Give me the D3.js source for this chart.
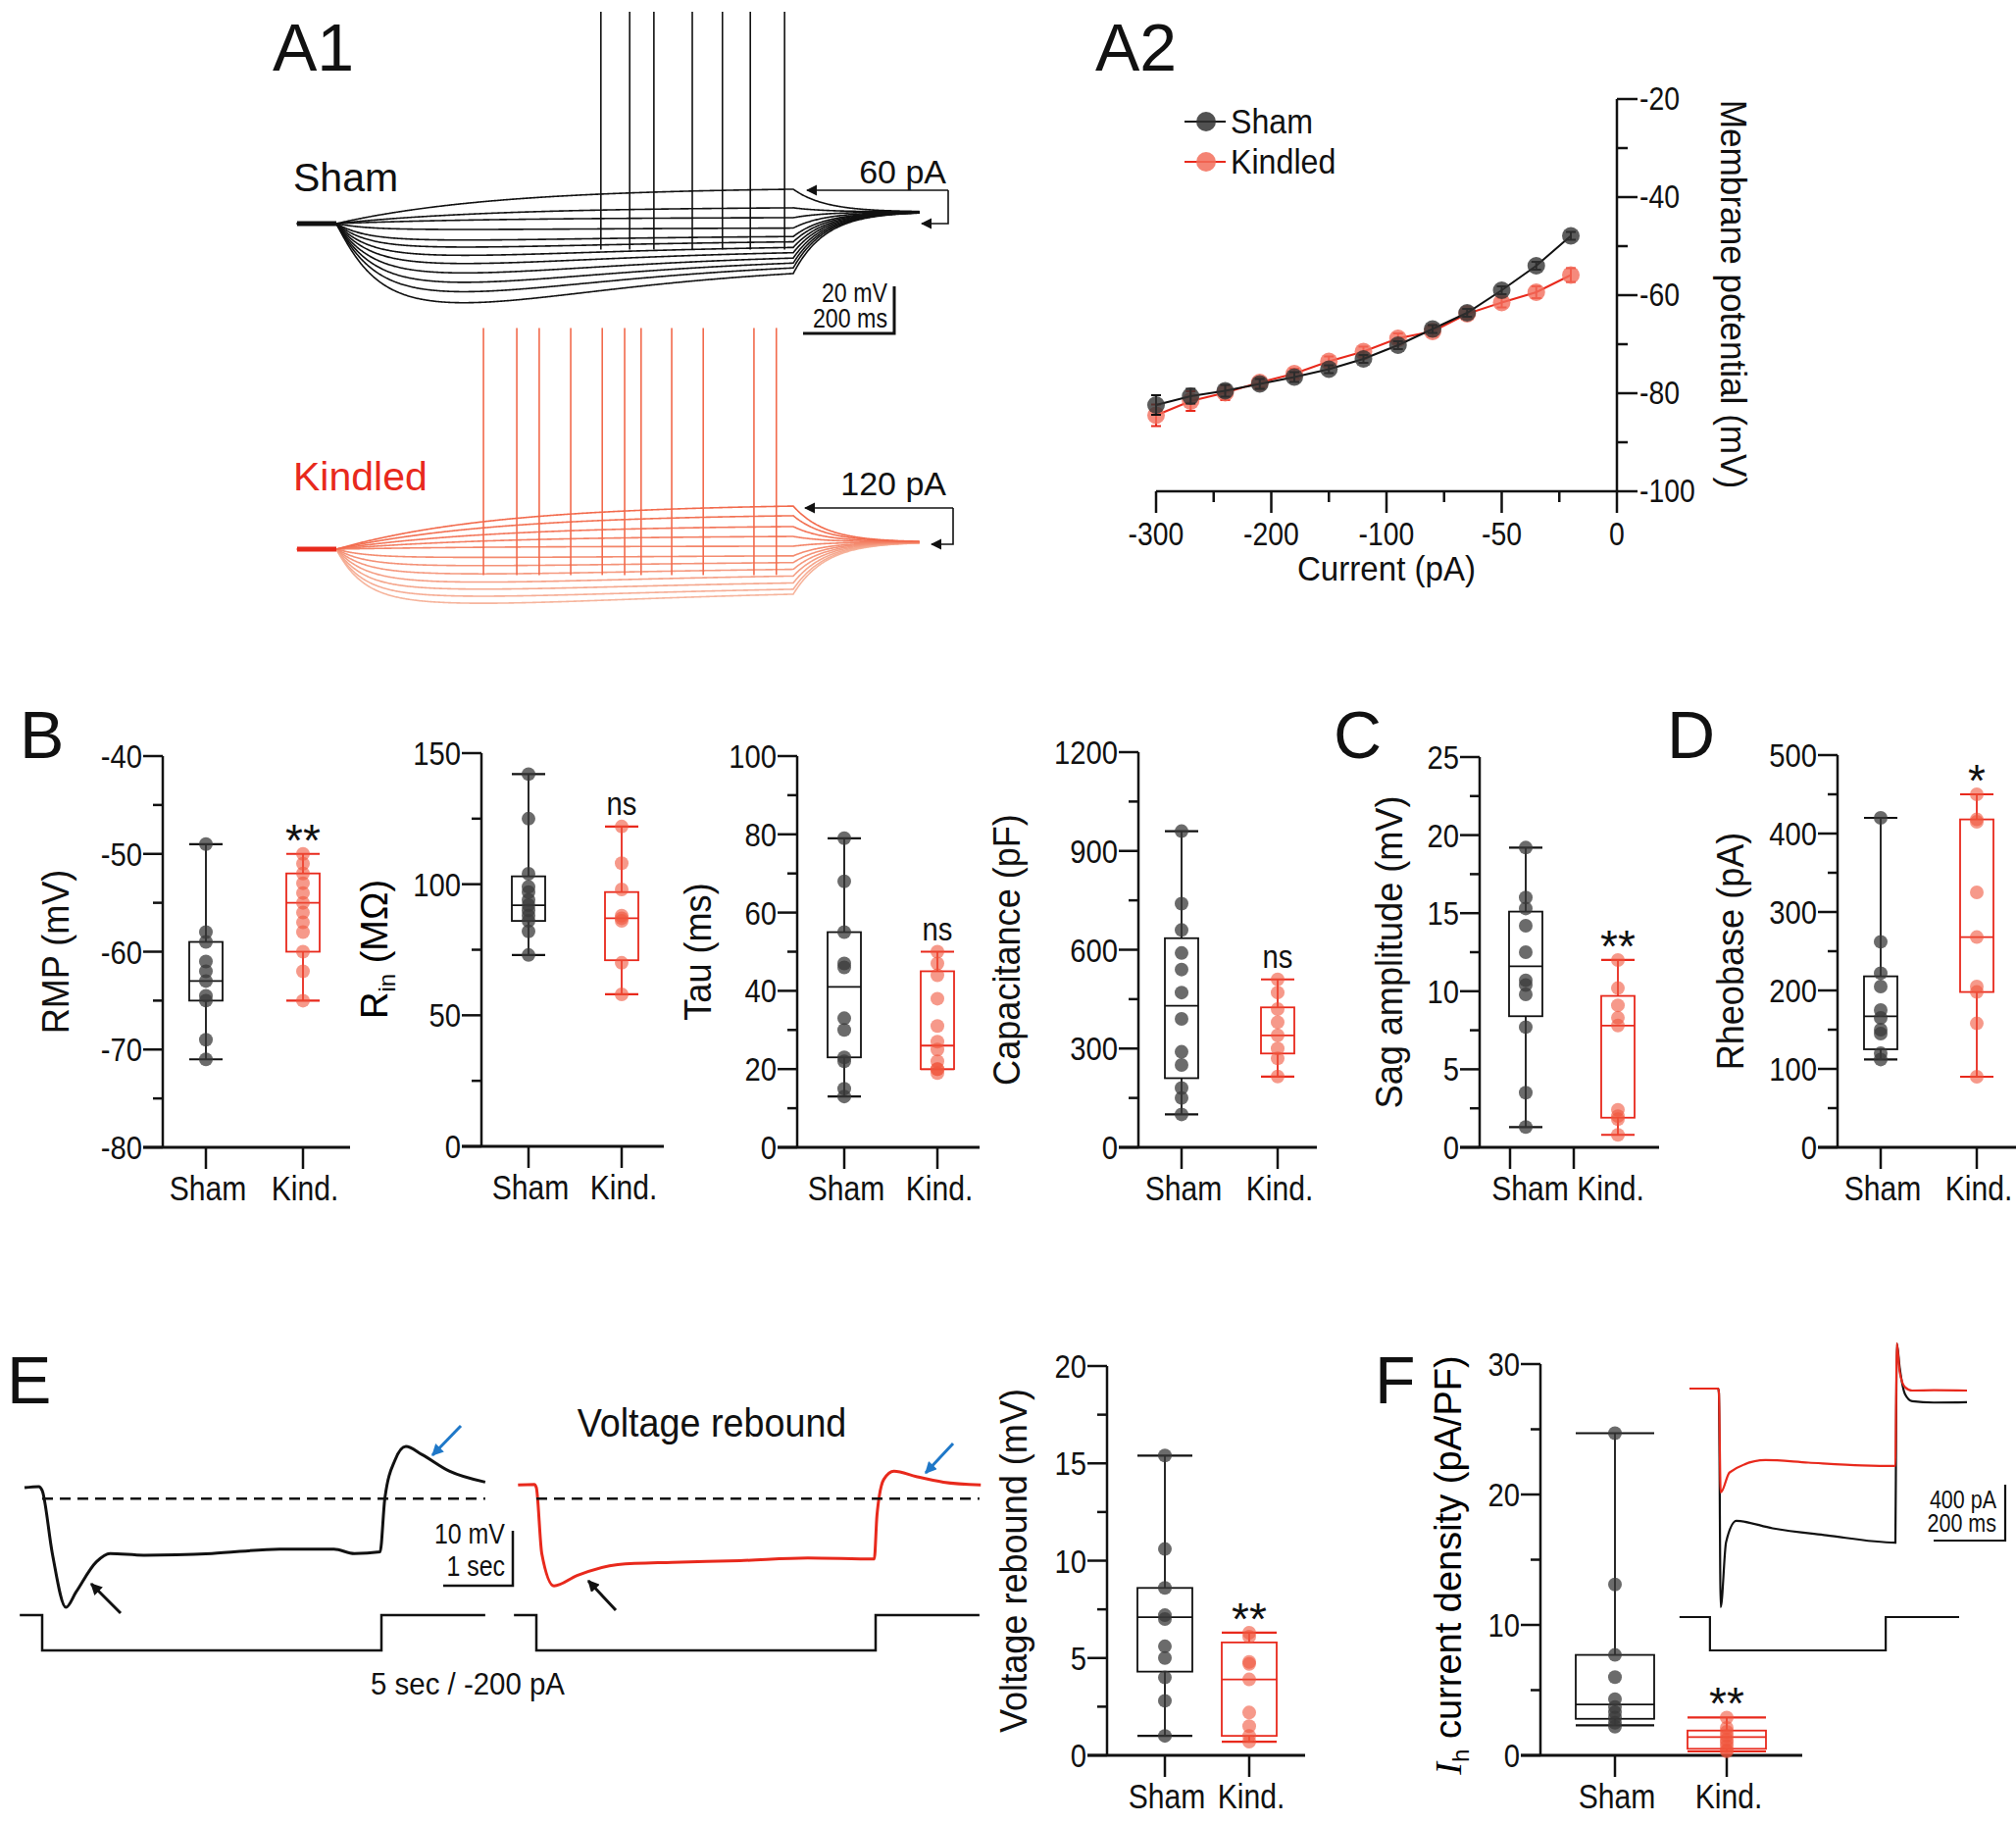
<!DOCTYPE html>
<html><head><meta charset="utf-8">
<script src="https://cdn.jsdelivr.net/npm/d3@7"></script>
<style>body{margin:0;background:#fff}text{font-family:"Liberation Sans",Arial,sans-serif}</style>
</head><body><svg id="c" width="2056" height="1859"></svg>
<script>
// ---------------- DATA ----------------
const groups = ["Sham","Kind."];
// A1 sweeps (mV relative to rest): steady-state and sag peak
const shamSS   = [14.6, 6.7, 2.5, -1.7, -5, -7, -9, -10.8, -12.5, -14, -15.4, -17];
const shamPeak = [14.6, 6.7, 2.5, -2.5, -7, -10, -13.5, -17, -21, -25, -29, -33.7];
const kindSS   = [18.3, 14.2, 9.6, 5.4, 1.25, -2.5, -5, -7.5, -10, -12.9, -15.4, -17];
const kindPeak = [18.3, 14.2, 9.6, 5.4, 1.25, -3.5, -7, -10.5, -14, -17, -20, -23];
const shamSpikes = [579, 642, 695, 779, 845, 906, 981];
const kindSpikes = [322, 395, 444, 513, 582, 631, 667, 734, 803, 914, 963];
// A2 I-V
const ivCurrent = [-300,-270,-240,-210,-180,-150,-120,-95,-80,-65,-50,-35,-20];
const ivSham    = [-82.4,-80.6,-79.5,-78.1,-76.7,-75.1,-73.0,-70.2,-66.9,-63.6,-59.0,-54.0,-47.9];
const ivShamErr = [2,1.5,1.2,1,1,0.8,0.8,0.8,0.8,0.8,0.8,0.8,0.8];
const ivKind    = [-84.5,-81.6,-79.9,-77.8,-76.0,-73.5,-71.5,-68.8,-67.4,-63.8,-61.5,-59.4,-55.9];
const ivKindErr = [2.2,2,1.5,1,1,1,1,1,1,1,1,1.2,1.4];
// Box plots: [min, q1, median, q3, max] and points
const rmpBox  = {sham:[-71,-65,-63,-59,-49], kind:[-65,-60,-55,-52,-50]};
const rmpPts  = {sham:[-49,-58,-59,-61,-62,-63,-64.5,-65,-69,-71], kind:[-50,-51,-52,-53,-54,-55,-56,-57,-58,-60,-62,-65]};
const rinBox  = {sham:[73,86,92,103,142], kind:[58,71,87,97,122]};
const rinPts  = {sham:[142,125,104,99,97,94,92,90,88,86,82,73], kind:[122,108,98,88,87,86,70,58]};
const tauBox  = {sham:[13,23,41,55,79], kind:[20,20,26,45,50]};
const tauPts  = {sham:[79,68,55,47,46,33,30,23,22,15,13], kind:[50,47,44,38,31,27,25,22,20,20,19]};
const capBox  = {sham:[100,210,430,635,960], kind:[215,285,340,425,510]};
const capPts  = {sham:[960,740,660,590,540,470,390,290,250,180,150,100], kind:[510,470,420,380,340,300,270,215]};
const sagBox  = {sham:[1.3,8.4,11.6,15.1,19.2], kind:[0.8,1.9,7.8,9.7,12]};
const sagPts  = {sham:[19.2,16,15.3,14.2,12.5,10.7,10.4,9.8,7.7,3.5,1.3], kind:[12,10.2,9.1,8.3,7.8,2.4,2,1.8,0.8]};
const rheoBox = {sham:[112,125,167,218,420], kind:[90,198,268,418,450]};
const rheoPts = {sham:[420,262,222,205,175,165,150,145,120,112], kind:[450,418,415,325,268,205,198,158,90]};
const vrBox   = {sham:[1.0,4.3,7.1,8.6,15.4], kind:[0.7,1.0,3.9,5.8,6.3]};
const vrPts   = {sham:[15.4,10.6,8.6,7.2,7.0,5.6,5.0,4.0,2.8,1.0], kind:[6.3,6.1,4.8,4.7,3.9,2.2,1.5,1.0,0.7]};
const ihBox   = {sham:[2.3,2.8,3.9,7.7,24.7], kind:[0.3,0.5,1.4,1.9,2.9]};
const ihPts   = {sham:[24.7,13.1,7.7,6.0,4.3,3.7,3.3,2.9,2.5,2.2], kind:[2.9,2.1,1.8,1.5,1.2,1.0,0.7,0.4,0.3]};
// E traces (time s, mV)
const eShamT = [-0.26,-0.05,0,0.15,0.35,0.5,0.8,1.0,1.5,2.5,3.5,4.3,4.6,4.98,5.05,5.2,5.36,5.6,6.0,6.53];
const eShamV = [0,0.2,-0.5,-12,-21.8,-19,-13.5,-12,-12.3,-12,-11.2,-11.2,-12,-11.7,-2,5,7.5,6,3,1.0];
const eKindT = [-0.27,-0.03,0,0.08,0.26,0.6,1.2,2,3,4,4.98,5.02,5.12,5.27,5.6,6.0,6.55];
const eKindV = [0.5,0.6,0,-12,-17.9,-16,-14,-13.6,-13.3,-12.8,-13,-5,1.5,3,2,1,0.5];
// F inset (ms, pA)
const fShamT = [-82,-2,0,5,20,49,150,300,493,495,497,505,520,540,600,693];
const fShamI = [0,0,-30,-1565,-1100,-947,-1000,-1050,-1102,-300,323,150,-40,-90,-100,-98];
const fKindT = [-82,-2,0,5,30,130,250,400,493,495,497,505,520,540,600,693];
const fKindI = [0,0,-30,-744,-600,-512,-530,-550,-554,-100,323,120,10,-14,-12,-14];
const fCmdT  = [-110,-25,-25,466,466,671];
const fCmdL  = [0,0,1,1,0,0];

// ---------------- DRAW ----------------
const svg = d3.select("#c");
const BLACK="#111", RED="#e8291c", SHAMDOT="#3a3a3a", KINDDOT="#f0553c";
const defs=svg.append("defs");
function mk(id,size,col){defs.append("marker").attr("id",id).attr("viewBox","0 0 10 10").attr("refX",9).attr("refY",5)
  .attr("markerWidth",size).attr("markerHeight",size).attr("orient","auto")
  .append("path").attr("d","M0,0L10,5L0,10z").attr("fill",col);}
mk("ah",7,"#111"); mk("ahb",4,"#1f78c8"); mk("ahk",4,"#111");

function txt(x,y,s,size,opts={}){
  const sx=opts.sx||1;
  const t=svg.append("text").attr("x",0).attr("y",0).attr("font-size",size).text(s)
   .attr("text-anchor",opts.anchor||"start").attr("fill",opts.fill||"#111");
  t.attr("transform",`translate(${x},${y}) rotate(${opts.rot||0}) scale(${sx},1)`);
  return t;
}
const NS=0.86; // narrow squeeze for tick & category labels
// panel letters
[["A1",278,72],["A2",1117,72],["B",20,773],["C",1360,773],["D",1700,773],["E",7,1431],["F",1402,1431]]
 .forEach(d=>txt(d[1],d[2],d[0],68));

// ---------- A1 ----------
function drawSweeps(cfg){
  const x=d3.scaleLinear().domain([0,1000]).range([343,809]);
  const y=d3.scaleLinear().domain([0,20]).range([cfg.base,cfg.base-48]);
  const ts=d3.range(-86,1278,2);
  const n=cfg.ss.length;
  const v=(i,t)=>{
    const ss=cfg.ss[i], pk=cfg.pk[i];
    const f=(tt)=>{const tau= ss>0?350:45; const r=1-Math.exp(-tt/tau); const B=(tt/cfg.tp)*Math.exp(1-tt/cfg.tp);
      return (ss>0? ss*r/(1-Math.exp(-1000/350)) : ss*r + (pk-ss)*B*r);};
    if(t<=0) return 0;
    if(t<=1000) return f(t);
    const e=f(1000); return cfg.fin+(e-cfg.fin)*Math.exp(-(t-1000)/70);
  };
  const line=d3.line().x(d=>x(d[0])).y(d=>y(d[1]));
  for(let i=n-1;i>=0;i--){
    svg.append("path").attr("d",line(ts.map(t=>[t,v(i,t)]))).attr("fill","none")
      .attr("stroke",cfg.color(i/(n-1))).attr("stroke-width",1.6);
  }
  svg.append("path").attr("d",line([[-86,0],[0,0]])).attr("stroke",cfg.baseColor).attr("stroke-width",5);
  cfg.spikes.forEach(s=>{
    svg.append("line").attr("x1",x(s)).attr("x2",x(s)).attr("y1",y(-11)).attr("y2",y(cfg.top))
      .attr("stroke",cfg.color(0)).attr("stroke-width",1.6);
  });
}
drawSweeps({base:228,ss:shamSS,pk:shamPeak,tp:272,fin:5,top:90,spikes:shamSpikes,color:()=>BLACK,baseColor:BLACK});
drawSweeps({base:560,ss:kindSS,pk:kindPeak,tp:313,fin:3,top:94,spikes:kindSpikes,
  color:d3.interpolateRgb("#f26a4c","#f6b49c"),baseColor:RED});
txt(299,195,"Sham",41);
txt(299,500,"Kindled",41,{fill:RED});
txt(965,187,"60 pA",34,{anchor:"end"});
txt(965,505,"120 pA",34,{anchor:"end"});
svg.append("path").attr("d","M967,194L967,228L940,228").attr("fill","none").attr("stroke","#111").attr("stroke-width",1.6).attr("marker-end","url(#ah)");
svg.append("line").attr("x1",967).attr("y1",194).attr("x2",823).attr("y2",194).attr("stroke","#111").attr("stroke-width",1.6).attr("marker-end","url(#ah)");
svg.append("path").attr("d","M972,518L972,555L950,555").attr("fill","none").attr("stroke","#111").attr("stroke-width",1.6).attr("marker-end","url(#ah)");
svg.append("line").attr("x1",972).attr("y1",518).attr("x2",821).attr("y2",518).attr("stroke","#111").attr("stroke-width",1.6).attr("marker-end","url(#ah)");
svg.append("path").attr("d","M819,340L912,340L912,292").attr("fill","none").attr("stroke","#111").attr("stroke-width",3);
txt(905,308,"20 mV",27,{anchor:"end",sx:NS});
txt(905,334,"200 ms",27,{anchor:"end",sx:NS});

// ---------- A2 ----------
{
  const x=d3.scaleLinear().domain([-300,-200,-100,-50,0]).range([1179,1296.5,1414,1531.5,1649]);
  const y=d3.scaleLinear().domain([-100,-20]).range([501,101]);
  const g=svg.append("g");
  g.append("line").attr("x1",1179).attr("x2",1649).attr("y1",501).attr("y2",501).attr("stroke","#111").attr("stroke-width",2.5);
  g.append("line").attr("x1",1649).attr("x2",1649).attr("y1",101).attr("y2",501).attr("stroke","#111").attr("stroke-width",2.5);
  [-300,-200,-100,-50,0].forEach(v=>{g.append("line").attr("x1",x(v)).attr("x2",x(v)).attr("y1",501).attr("y2",523).attr("stroke","#111").attr("stroke-width",2.5);
     txt(x(v),556,String(v),33,{anchor:"middle",sx:NS});});
  [-250,-150,-75,-25].forEach(v=>g.append("line").attr("x1",x(v)).attr("x2",x(v)).attr("y1",501).attr("y2",512).attr("stroke","#111").attr("stroke-width",2.5));
  d3.range(-100,-19,10).forEach(v=>{const maj=v%20===0;
    g.append("line").attr("x1",1649).attr("x2",1649+(maj?21:11)).attr("y1",y(v)).attr("y2",y(v)).attr("stroke","#111").attr("stroke-width",2.5);
    if(maj) txt(1672,y(v)+11,String(v),33,{sx:NS});});
  txt(1414,592,"Current (pA)",36,{anchor:"middle",sx:0.92});
  txt(1755,300,"Membrane potential (mV)",37,{anchor:"middle",rot:90,sx:0.95});
  const sets=[[ivKind,ivKindErr,RED,"#f26d5b"],[ivSham,ivShamErr,"#111","#333"]];
  sets.forEach(([vals,err,lc,fc])=>{
    g.append("path").attr("d",d3.line().x((d,i)=>x(ivCurrent[i])).y(d=>y(d))(vals)).attr("fill","none").attr("stroke",lc).attr("stroke-width",2);
    vals.forEach((v,i)=>{
      g.append("line").attr("x1",x(ivCurrent[i])).attr("x2",x(ivCurrent[i])).attr("y1",y(v-err[i])).attr("y2",y(v+err[i])).attr("stroke",lc).attr("stroke-width",2);
      [v-err[i],v+err[i]].forEach(e=>g.append("line").attr("x1",x(ivCurrent[i])-5).attr("x2",x(ivCurrent[i])+5).attr("y1",y(e)).attr("y2",y(e)).attr("stroke",lc).attr("stroke-width",2));
      g.append("circle").attr("cx",x(ivCurrent[i])).attr("cy",y(v)).attr("r",9).attr("fill",fc).attr("opacity",0.8);
    });
  });
  [["Sham",124,"#111","#333"],["Kindled",165,RED,"#f26d5b"]].forEach(([s,yy,lc,fc])=>{
    g.append("line").attr("x1",1208).attr("x2",1250).attr("y1",yy).attr("y2",yy).attr("stroke",lc).attr("stroke-width",2);
    g.append("circle").attr("cx",1230).attr("cy",yy).attr("r",10).attr("fill",fc).attr("opacity",0.85);
    txt(1255,yy+12,s,35,{sx:0.92});
  });
}

// ---------- Box plots ----------
function boxPlot(c){
  const y=d3.scaleLinear().domain(c.domain).range([c.bottom,c.top]);
  const g=svg.append("g");
  g.append("line").attr("x1",c.ax).attr("x2",c.ax).attr("y1",c.top).attr("y2",c.bottom).attr("stroke","#111").attr("stroke-width",2.5);
  g.append("line").attr("x1",c.ax-20).attr("x2",c.xend).attr("y1",c.bottom).attr("y2",c.bottom).attr("stroke","#111").attr("stroke-width",3);
  d3.range(c.domain[0],c.domain[1]+1e-9,c.minor).forEach(v=>{
    const maj=Math.abs((v-c.domain[0])/c.major-Math.round((v-c.domain[0])/c.major))<1e-6;
    g.append("line").attr("x1",c.ax-(maj?20:10)).attr("x2",c.ax).attr("y1",y(v)).attr("y2",y(v)).attr("stroke","#111").attr("stroke-width",2.5);
    if(maj) txt(c.ax-21,y(v)+12,String(v),34,{anchor:"end",sx:NS});
  });
  const ticks=c.ticks||c.xs;
  ticks.forEach(tx=>g.append("line").attr("x1",tx).attr("x2",tx).attr("y1",c.bottom).attr("y2",c.bottom+22).attr("stroke","#111").attr("stroke-width",2.5));
  if(c.catCenter){ txt(c.catCenter,c.bottom+54,groups.join(" "),35,{anchor:"middle",sx:NS}); }
  else groups.forEach((s,i)=>txt(c.xs[i]+(i===0?2:2),c.bottom+54,s,35,{anchor:"middle",sx:NS}));
  [["sham","#111",SHAMDOT,0.75],["kind",RED,KINDDOT,0.6]].forEach(([k,lc,fc,op],i)=>{
    const b=c.box[k], xx=c.xs[i], w=c.bw||17;
    g.append("line").attr("x1",xx).attr("x2",xx).attr("y1",y(b[0])).attr("y2",y(b[4])).attr("stroke",lc).attr("stroke-width",1.8);
    [b[0],b[4]].forEach(v=>g.append("line").attr("x1",xx-w).attr("x2",xx+w).attr("y1",y(v)).attr("y2",y(v)).attr("stroke",lc).attr("stroke-width",2.2));
    g.append("rect").attr("x",xx-w).attr("width",2*w).attr("y",y(b[3])).attr("height",y(b[1])-y(b[3])).attr("fill","#fff").attr("stroke",lc).attr("stroke-width",1.8);
    g.append("line").attr("x1",xx-w).attr("x2",xx+w).attr("y1",y(b[2])).attr("y2",y(b[2])).attr("stroke",lc).attr("stroke-width",1.8);
    c.pts[k].forEach(v=>g.append("circle").attr("cx",xx).attr("cy",y(v)).attr("r",7).attr("fill",fc).attr("opacity",op));
  });
  if(c.sig){ const star=c.sig.includes("*");
    txt(c.xs[1],y(c.box.kind[4])-(star?-2:12),c.sig,star?46:34,{anchor:"middle",sx:star?1:NS}); }
  if(c.title) txt(c.tx,(c.top+c.bottom)/2,c.title,38,{anchor:"middle",rot:-90,sx:0.95});
  return g;
}
boxPlot({domain:[-80,-40],major:10,minor:5,top:771,bottom:1170,ax:166,xend:357,xs:[210,309],box:rmpBox,pts:rmpPts,sig:"**",tx:70,title:"RMP (mV)"});
boxPlot({domain:[0,150],major:50,minor:25,top:768,bottom:1169,ax:491,xend:677,xs:[539,634],box:rinBox,pts:rinPts,sig:"ns",tx:395,title:""});
{const t=svg.append("text").attr("font-size",38).attr("text-anchor","middle").attr("transform","translate(395,968) rotate(-90)");
 t.append("tspan").text("R"); t.append("tspan").attr("font-size",24).attr("dy",8).text("in"); t.append("tspan").attr("dy",-8).text(" (MΩ)");}
boxPlot({domain:[0,100],major:20,minor:10,top:771,bottom:1170,ax:813,xend:999,xs:[861,956],box:tauBox,pts:tauPts,sig:"ns",tx:725,title:"Tau (ms)"});
boxPlot({domain:[0,1200],major:300,minor:150,top:767,bottom:1170,ax:1161,xend:1343,xs:[1205,1303],box:capBox,pts:capPts,sig:"ns",tx:1040,title:"Capacitance (pF)"});
boxPlot({domain:[0,25],major:5,minor:2.5,top:772,bottom:1170,ax:1509,xend:1692,xs:[1556,1650],ticks:[1540,1605],catCenter:1599,box:sagBox,pts:sagPts,sig:"**",tx:1430,title:"Sag amplitude (mV)"});
boxPlot({domain:[0,500],major:100,minor:50,top:770,bottom:1170,ax:1874,xend:2056,xs:[1918,2016],box:rheoBox,pts:rheoPts,sig:"*",tx:1778,title:"Rheobase (pA)"});
boxPlot({domain:[0,20],major:5,minor:2.5,top:1393,bottom:1790,ax:1129,xend:1331,xs:[1188,1274],bw:28,box:vrBox,pts:vrPts,sig:"**",tx:1047,title:"Voltage rebound (mV)"});
boxPlot({domain:[0,30],major:10,minor:5,top:1391,bottom:1790,ax:1571,xend:1838,xs:[1647,1761],bw:40,box:ihBox,pts:ihPts,sig:"**",tx:1490,title:""});
{const t=svg.append("text").attr("font-size",38).attr("text-anchor","middle").attr("transform","translate(1490,1596) rotate(-90)");
 t.append("tspan").attr("font-style","italic").attr("font-family","Liberation Serif").text("I");
 t.append("tspan").attr("font-size",24).attr("dy",8).text("h"); t.append("tspan").attr("dy",-8).text(" current density (pA/PF)");}

// ---------- E traces ----------
function eTrace(T,V,x0,color){
  const x=d3.scaleLinear().domain([0,5]).range([x0,x0+346]);
  const y=d3.scaleLinear().domain([0,10]).range([1517,1461]);
  svg.append("path").attr("d",d3.line().x((d,i)=>x(T[i])).y(d=>y(d)).curve(d3.curveMonotoneX)(V))
    .attr("fill","none").attr("stroke",color).attr("stroke-width",3);
  svg.append("line").attr("x1",x0).attr("x2",x(6.53)).attr("y1",y(-2)).attr("y2",y(-2)).attr("stroke","#111").attr("stroke-width",2.5).attr("stroke-dasharray","11,7");
  const cy0=1647, cy1=1683;
  svg.append("path").attr("d",`M${x(-0.33)},${cy0}L${x0},${cy0}L${x0},${cy1}L${x(5)},${cy1}L${x(5)},${cy0}L${x(6.53)},${cy0}`)
    .attr("fill","none").attr("stroke","#111").attr("stroke-width",2.5);
}
eTrace(eShamT,eShamV,43,"#111");
eTrace(eKindT,eKindV,547,RED);
svg.append("path").attr("d","M452,1617L523,1617L523,1561").attr("fill","none").attr("stroke","#111").attr("stroke-width",2.5);
txt(515,1574,"10 mV",29,{anchor:"end",sx:NS}); txt(515,1607,"1 sec",29,{anchor:"end",sx:NS});
txt(726,1465,"Voltage rebound",41,{anchor:"middle",sx:0.92});
txt(477,1728,"5 sec / -200 pA",32,{anchor:"middle",sx:0.92});
[[123,1645,93,1615,"url(#ahk)","#111"],[628,1642,600,1612,"url(#ahk)","#111"],[470,1454,441,1484,"url(#ahb)","#1f78c8"],[972,1472,944,1502,"url(#ahb)","#1f78c8"]]
 .forEach(a=>svg.append("line").attr("x1",a[0]).attr("y1",a[1]).attr("x2",a[2]).attr("y2",a[3]).attr("stroke",a[5]).attr("stroke-width",3).attr("marker-end",a[4]));

// ---------- F inset ----------
{
  const x=d3.scaleLinear().domain([0,493]).range([1753,1933]);
  const y=d3.scaleLinear().domain([0,-400]).range([1416,1473]);
  const ln=d3.line().x((d,i)=>x(d[0])).y(d=>y(d[1])).curve(d3.curveMonotoneX);
  svg.append("path").attr("d",ln(fShamT.map((t,i)=>[t,fShamI[i]]))).attr("fill","none").attr("stroke","#111").attr("stroke-width",2.2);
  svg.append("path").attr("d",ln(fKindT.map((t,i)=>[t,fKindI[i]]))).attr("fill","none").attr("stroke",RED).attr("stroke-width",2.2);
  svg.append("path").attr("d",d3.line().x((d,i)=>x(fCmdT[i])).y(d=>d?1683:1649)(fCmdL)).attr("fill","none").attr("stroke","#111").attr("stroke-width",2.2);
  svg.append("path").attr("d","M1972,1571L2045,1571L2045,1514").attr("fill","none").attr("stroke","#111").attr("stroke-width",2.2);
  txt(2036,1538,"400 pA",25,{anchor:"end",sx:NS}); txt(2036,1562,"200 ms",25,{anchor:"end",sx:NS});
}
</script></body></html>
